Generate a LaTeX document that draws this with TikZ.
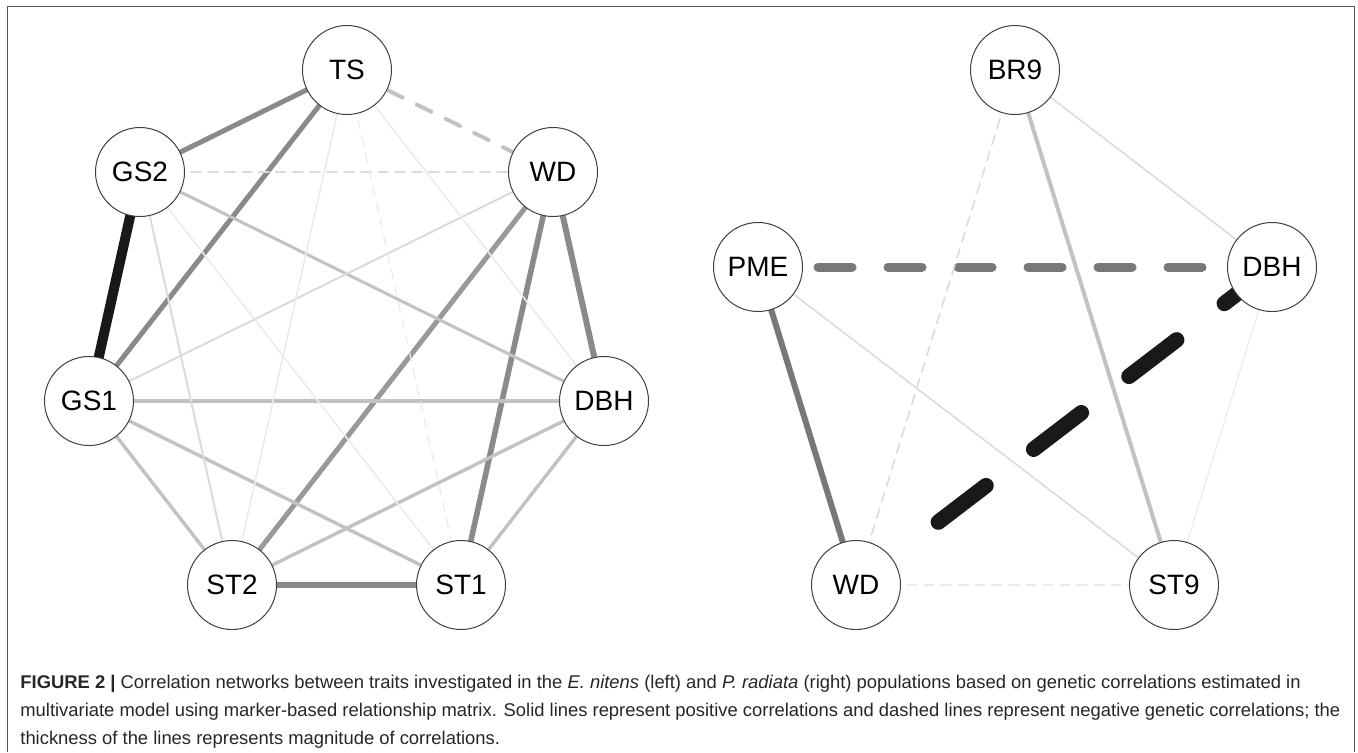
\documentclass[tikz,border=0pt]{standalone}
\usepackage{fontspec}
\setmainfont{Liberation Sans}
\usetikzlibrary{backgrounds}
\definecolor{edgeblack}{gray}{0.1}
\definecolor{edgedark}{gray}{0.47}
\definecolor{edgemid}{gray}{0.54}
\definecolor{edgemidlight}{gray}{0.6}
\definecolor{edgelight}{gray}{0.76}
\definecolor{edgepale}{gray}{0.86}
\definecolor{edgefaint}{gray}{0.92}
\begin{document}
\begin{tikzpicture}[x=0.5pt, y=-0.5pt,
    trait/.style={draw=black!75, circle, minimum size=44.5pt, inner sep=0pt, line width=0.5pt, fill=white, font=\fontsize{14}{16}\selectfont},
    neg/.style={line cap=round},
    captionline/.style={anchor=base west, inner sep=0pt, font=\fontsize{9.2}{11}\selectfont, text=black!85}]
    \useasboundingbox (0,0) rectangle (1358,752);
    \draw[black!65, line width=0.5pt] (7,752) -- (7,6) -- (1354,6) -- (1354,752);

    % E. nitens network
    \node[trait] (ts)  at (347,70)  {TS};
    \node[trait] (gs2) at (140,172) {GS2};
    \node[trait] (wd)  at (553,172) {WD};
    \node[trait] (gs1) at (89,401)  {GS1};
    \node[trait] (dbh) at (604,401) {DBH};
    \node[trait] (st2) at (232,585) {ST2};
    \node[trait] (st1) at (461,585) {ST1};

    % P. radiata network
    \node[trait] (br9)  at (1015,70)  {BR9};
    \node[trait] (pme)  at (758,267)  {PME};
    \node[trait] (rdbh) at (1272,267) {DBH};
    \node[trait] (rwd)  at (856,585)  {WD};
    \node[trait] (st9)  at (1174,585) {ST9};

    \begin{scope}[on background layer]
        \draw[line width=5pt, edgeblack] (gs2.center) -- (gs1.center);
        \draw[line width=2.5pt, edgemid] (ts.center) -- (gs2.center);
        \draw[line width=2.5pt, edgemid] (ts.center) -- (gs1.center);
        \draw[line width=3pt, edgemid] (wd.center) -- (dbh.center);
        \draw[line width=2.8pt, edgemid] (wd.center) -- (st1.center);
        \draw[line width=2.5pt, edgemidlight] (wd.center) -- (st2.center);
        \draw[line width=3pt, edgemid] (st2.center) -- (st1.center);
        \draw[neg, line width=2pt, edgelight, dash pattern=on 8pt off 8pt, dash phase=9pt] (ts.center) -- (wd.center);
        \draw[line width=2pt, edgelight] (gs1.center) -- (dbh.center);
        \draw[line width=1.7pt, edgelight] (gs1.center) -- (st2.center);
        \draw[line width=1.7pt, edgelight] (gs1.center) -- (st1.center);
        \draw[line width=1.5pt, edgelight] (gs2.center) -- (dbh.center);
        \draw[line width=1.7pt, edgelight] (dbh.center) -- (st2.center);
        \draw[line width=1.7pt, edgelight] (dbh.center) -- (st1.center);
        \draw[line width=1pt, edgepale] (gs1.center) -- (wd.center);
        \draw[line width=1pt, edgepale] (gs2.center) -- (st2.center);
        \draw[line width=0.8pt, edgefaint] (gs2.center) -- (st1.center);
        \draw[line width=0.8pt, edgefaint] (ts.center) -- (st2.center);
        \draw[line width=0.8pt, edgefaint] (ts.center) -- (dbh.center);
        \draw[neg, line width=0.8pt, edgepale, dash pattern=on 5pt off 3.5pt] (gs2.center) -- (wd.center);
        \draw[neg, line width=0.6pt, edgefaint, dash pattern=on 5pt off 3.5pt] (ts.center) -- (st1.center);

        \draw[neg, line width=7.75pt, edgeblack, dash pattern=on 30pt off 30pt] (rdbh.center) -- (rwd);
        \draw[neg, line width=4.5pt, edgedark, dash pattern=on 17pt off 18pt] (rdbh.center) -- (pme.center);
        \draw[line width=3pt, edgedark] (pme.center) -- (rwd.center);
        \draw[line width=2pt, edgelight] (br9.center) -- (st9.center);
        \draw[line width=0.8pt, edgepale] (br9.center) -- (rdbh.center);
        \draw[neg, line width=0.8pt, edgepale, dash pattern=on 5pt off 3.5pt] (br9.center) -- (rwd.center);
        \draw[line width=0.8pt, edgepale] (pme.center) -- (st9.center);
        \draw[line width=0.6pt, edgefaint] (rdbh.center) -- (st9.center);
        \draw[neg, line width=0.6pt, edgefaint, dash pattern=on 5pt off 3.5pt] (rwd.center) -- (st9.center);
    \end{scope}

    % caption
    \node[captionline] (cap1) at (20,688) {\textbf{FIGURE 2 |} Correlation networks between traits investigated in the \textit{E. nitens} (left) and \textit{P. radiata} (right) populations based on genetic correlations estimated in};
    \node[captionline] (cap2) at (20,716) {multivariate model using marker-based relationship matrix. Solid lines represent positive correlations and dashed lines represent negative genetic correlations; the};
    \node[captionline] (cap3) at (20,744) {thickness of the lines represents magnitude of correlations.};
\end{tikzpicture}
\end{document}
